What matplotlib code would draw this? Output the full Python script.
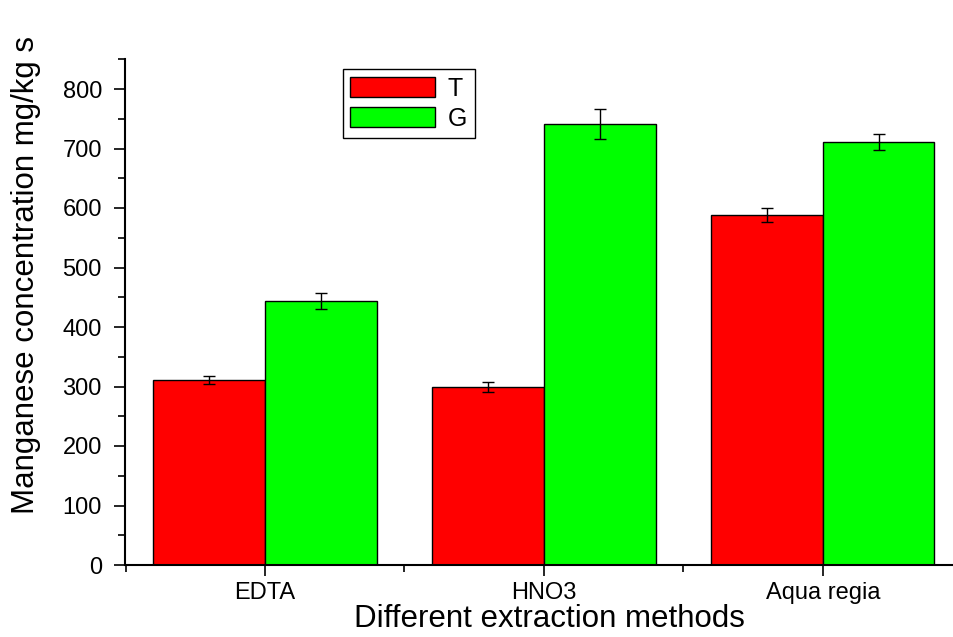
import numpy as np
import matplotlib.pyplot as plt
from matplotlib.ticker import MultipleLocator

plt.rcParams['font.family'] = ['Liberation Sans', 'DejaVu Sans']

# data
methods = ['EDTA', 'HNO3', 'Aqua regia']
t_vals = [311, 299, 588]
t_err = [7, 8, 11.5]
g_vals = [444, 741, 711]
g_err = [13.5, 25, 14]

fig = plt.figure(figsize=(9.54, 6.37), dpi=100)
ax = fig.add_axes([125.5 / 954, 72 / 637, 828.5 / 954, 505.75 / 637])

x = np.arange(len(methods))
w = 0.4
err_kw = dict(ecolor='black', elinewidth=1, capthick=1)
ax.bar(x - w / 2, t_vals, w, yerr=t_err, capsize=4.5, color='#ff0000',
       edgecolor='black', linewidth=1, label='T', error_kw=err_kw)
ax.bar(x + w / 2, g_vals, w, yerr=g_err, capsize=4.5, color='#00ff00',
       edgecolor='black', linewidth=1, label='G', error_kw=err_kw)

ax.set_xlim(-0.5, 2.47)
ax.set_ylim(0, 850)
ax.set_xticks(x)
ax.set_xticklabels(methods)
ax.xaxis.set_minor_locator(MultipleLocator(1, offset=0.5))
ax.yaxis.set_major_locator(MultipleLocator(100))
ax.yaxis.set_minor_locator(MultipleLocator(50))
ax.tick_params(which='major', direction='out', length=8, width=1.2, labelsize=17)
ax.tick_params(which='minor', direction='out', length=5, width=1.2)
ax.tick_params(axis='y', pad=9)
ax.tick_params(axis='x', pad=4)

for s in ['top', 'right']:
    ax.spines[s].set_visible(False)
for s in ['left', 'bottom']:
    ax.spines[s].set_linewidth(1.5)

ax.set_xlabel('Different extraction methods', fontsize=22.5)
ax.set_ylabel('Manganese concentration mg/kg s', fontsize=22.5)
ax.xaxis.set_label_coords((549 - 125.5) / 828.5, (565 - 604) / 505.75)
ax.yaxis.set_label_coords((41 - 125.5) / 828.5, (565 - 275) / 505.75)

leg = ax.legend(loc='upper left', bbox_to_anchor=(343 / 954, 1 - 69 / 637),
                bbox_transform=fig.transFigure, fontsize=18, frameon=True,
                fancybox=False, framealpha=1, edgecolor='black',
                handlelength=3.4, handleheight=0.85, borderpad=0.3,
                labelspacing=0.25, handletextpad=0.5, borderaxespad=0)
leg.get_frame().set_linewidth(1)

fig.savefig('out.png', dpi=100)
